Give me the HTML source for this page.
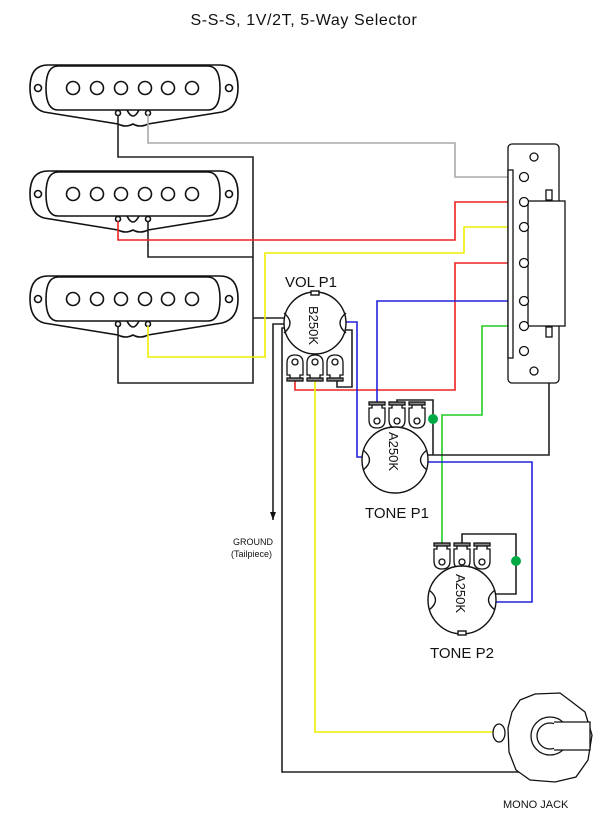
<!DOCTYPE html>
<html><head><meta charset="utf-8"><style>
body{margin:0;background:#fff}
svg{display:block}
text{font-family:"Liberation Sans",sans-serif;fill:#111}
</style></head><body>
<svg width="609" height="819" viewBox="0 0 609 819" xmlns="http://www.w3.org/2000/svg">
<defs>
<g id="pu" fill="none" stroke="#111" stroke-width="1.6">
  <path d="M48,65 H220 Q238,65 238,88 Q238,108 222,112 L148,124 Q140,128 133,124 Q126,128 118,124 L44,112 Q30,108 30,88 Q30,65 48,65 Z" fill="#fff"/>
  <path d="M58,66 H208 Q220,66 220,88 Q220,110 208,110 H58 Q46,110 46,88 Q46,66 58,66 Z"/>
  <circle cx="38" cy="88" r="3.5"/><circle cx="229" cy="88" r="3.5"/>
  <circle cx="73" cy="88" r="6.5"/><circle cx="97" cy="88" r="6.5"/><circle cx="121" cy="88" r="6.5"/>
  <circle cx="145" cy="88" r="6.5"/><circle cx="168" cy="88" r="6.5"/><circle cx="192" cy="88" r="6.5"/>
  <path d="M127,110 Q133,122 139,110"/>
  <circle cx="118" cy="113" r="2.5"/><circle cx="148" cy="113" r="2.5"/>
</g>
<g id="lug" fill="#fff" stroke="#111" stroke-width="1.3">
  <path d="M-8,0 V-12 Q-8,-20 0,-20 Q8,-20 8,-12 V0 H5 V4 H-5 V0 Z"/>
  <circle cx="0" cy="-13" r="3"/>
  <rect x="-8" y="3" width="16" height="3" fill="#888"/>
</g>
</defs>

<text x="304" y="25" font-size="16" text-anchor="middle" letter-spacing="0.6">S-S-S, 1V/2T, 5-Way Selector</text>

<use href="#pu"/>
<use href="#pu" y="106"/>
<use href="#pu" y="211"/>

<g fill="none" stroke-width="1.6">
<path d="M118,115 V157 H253 V383 H118 V326" stroke="#222"/>
<path d="M148,221 V257 H253" stroke="#222"/>
<path d="M253,318 H284" stroke="#222"/>
<path d="M148,115 V143 H455 V177 H520" stroke="#aaa"/>
<path d="M118,221 V240 H455 V202 H520" stroke="#e22"/>
<path d="M148,326 V357 H265 V253 H464 V227 H520" stroke="#ee0"/>
<path d="M520,263 H455 V390 H295 V380" stroke="#e22"/>
<path d="M520,301 H377 V408" stroke="#22d"/>
<path d="M520,326 H482 V415 H442 V547" stroke="#2c2"/>
<path d="M345,322 H357 V457 H368" stroke="#22d"/>
<path d="M424,455 H549 V335" stroke="#222"/>
<path d="M424,462 H532 V602 H490" stroke="#22d"/>
<path d="M345,330 H352 V387 H337 V380" stroke="#222"/>
<path d="M284,324 H273 V520" stroke="#222"/>
<path d="M284,328 H282 V772 H520" stroke="#222"/>
<path d="M315,380 V732 H497" stroke="#ee0"/>
<path d="M397,408 V400 H433 V455" stroke="#222"/>
<path d="M462,547 V534 H516 V594 H490" stroke="#222"/>
</g>
<path d="M273,520 l-3,-8 h6 z" fill="#111"/>
<circle cx="433" cy="419" r="5" fill="#0a4"/>
<circle cx="516" cy="561" r="5" fill="#0a4"/>

<g fill="#fff" stroke="#111" stroke-width="1.4">
<use href="#lug" x="295" y="375"/><use href="#lug" x="315" y="375"/><use href="#lug" x="335" y="375"/>
<circle cx="315" cy="323" r="31"/>
<path d="M284,313 Q296,323 284,333" fill="none"/>
<path d="M346,313 Q334,323 346,333" fill="none"/>
<rect x="311" y="291" width="8" height="4"/>
</g>
<text font-size="13" transform="translate(309,306) rotate(90)">B250K</text>
<text x="285" y="287" font-size="15">VOL P1</text>

<g fill="#fff" stroke="#111" stroke-width="1.4">
<use href="#lug" transform="translate(377,408) rotate(180)"/><use href="#lug" transform="translate(397,408) rotate(180)"/><use href="#lug" transform="translate(417,408) rotate(180)"/>
<circle cx="395" cy="460" r="33"/>
<path d="M363,450 Q376,460 363,470" fill="none"/>
<path d="M427,450 Q414,460 427,470" fill="none"/>
</g>
<text font-size="13" transform="translate(389,432) rotate(90)">A250K</text>
<text x="365" y="518" font-size="15">TONE P1</text>

<g fill="#fff" stroke="#111" stroke-width="1.4">
<use href="#lug" transform="translate(442,549) rotate(180)"/><use href="#lug" transform="translate(462,549) rotate(180)"/><use href="#lug" transform="translate(482,549) rotate(180)"/>
<circle cx="462" cy="600" r="34"/>
<path d="M429,590 Q442,600 429,610" fill="none"/>
<path d="M495,590 Q482,600 495,610" fill="none"/>
<rect x="458" y="631" width="8" height="4"/>
</g>
<text font-size="13" transform="translate(456,574) rotate(90)">A250K</text>
<text x="430" y="658" font-size="15">TONE P2</text>

<text x="233" y="545" font-size="9">GROUND</text>
<text x="231" y="557" font-size="9">(Tailpiece)</text>

<g fill="#fff" stroke="#111" stroke-width="1.3">
<rect x="508" y="144" width="51" height="239" rx="4"/>
<rect x="508" y="170" width="5" height="188"/>
<rect x="528" y="201" width="37" height="125"/>
<rect x="546" y="190" width="6" height="10"/>
<rect x="546" y="327" width="6" height="10"/>
<circle cx="534" cy="157" r="4"/><circle cx="534" cy="371" r="4"/>
<circle cx="524" cy="177" r="4.5"/><circle cx="524" cy="202" r="4.5"/><circle cx="524" cy="227" r="4.5"/>
<circle cx="524" cy="263" r="4.5"/><circle cx="524" cy="301" r="4.5"/><circle cx="524" cy="326" r="4.5"/>
<circle cx="524" cy="351" r="4.5"/>
</g>

<g fill="#fff" stroke="#111" stroke-width="1.3">
<path d="M520,700 L535,694 L560,693 L572,702 L585,712 L592,735 L588,760 L576,777 L555,782 L530,780 L516,770 L509,752 L508,728 L512,712 Z"/>
<ellipse cx="499" cy="733" rx="6" ry="9"/>
<circle cx="550" cy="736" r="19"/>
<circle cx="550" cy="736" r="13"/>
<path d="M554,722 H590 V750 H554" />
</g>
<text x="503" y="808" font-size="11">MONO JACK</text>
</svg>
</body></html>
